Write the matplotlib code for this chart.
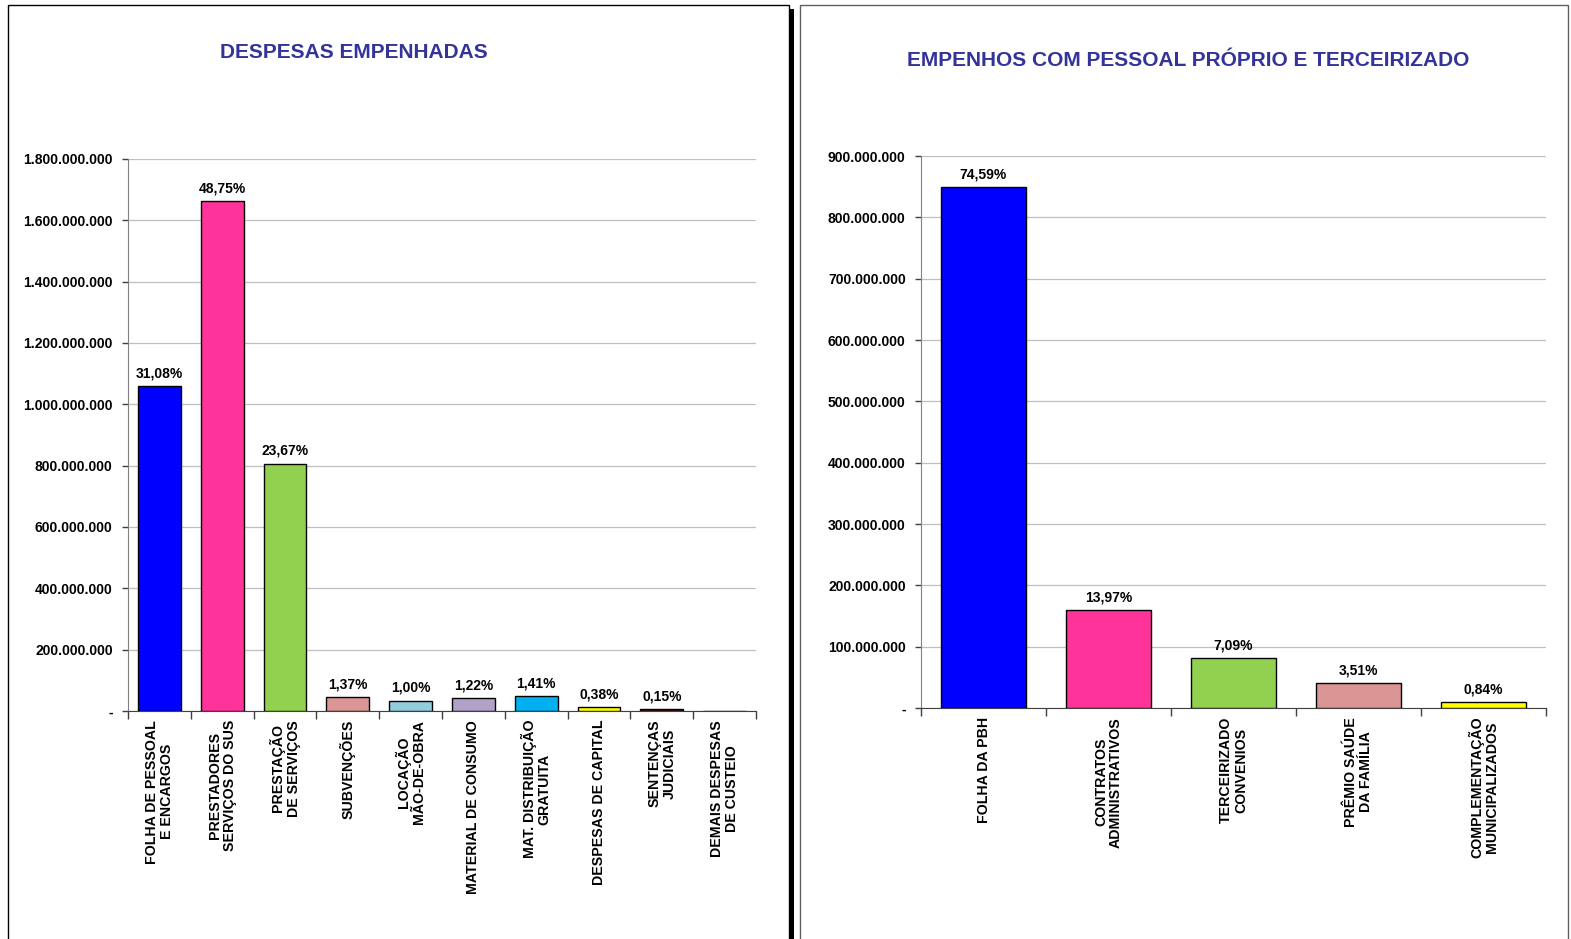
import matplotlib
matplotlib.use("Agg")
from matplotlib import pyplot as plt
from matplotlib.patches import Rectangle
from matplotlib.ticker import FuncFormatter, FixedLocator
import numpy as np

plt.rcParams['font.family'] = ['Liberation Sans', 'DejaVu Sans']
plt.rcParams['font.weight'] = 'bold'

# left chart data
desp_labels = ['FOLHA DE PESSOAL\nE ENCARGOS', 'PRESTADORES\nSERVIÇOS DO SUS', 'PRESTAÇÃO\nDE SERVIÇOS',
               'SUBVENÇÕES', 'LOCAÇÃO\nMÃO-DE-OBRA', 'MATERIAL DE CONSUMO', 'MAT. DISTRIBUIÇÃO\nGRATUITA',
               'DESPESAS DE CAPITAL', 'SENTENÇAS\nJUDICIAIS', 'DEMAIS DESPESAS\nDE CUSTEIO']
desp_values = [1060e6, 1662e6, 807e6, 46.7e6, 34.1e6, 41.6e6, 48.1e6, 13.0e6, 5.1e6, 1.5e6]
desp_pct = ['31,08%', '48,75%', '23,67%', '1,37%', '1,00%', '1,22%', '1,41%', '0,38%', '0,15%', '']
desp_colors = ['#0000FF', '#FF3399', '#92D050', '#DA9694', '#92CDDC', '#B1A0C7', '#00B0F0',
               '#FFFF00', '#4B1010', '#1F1F4F']

# right chart data
pes_labels = ['FOLHA DA PBH', 'CONTRATOS\nADMINISTRATIVOS', 'TERCEIRIZADO\nCONVENIOS',
              'PRÊMIO SAÚDE\nDA FAMÍLIA', 'COMPLEMENTAÇÃO\nMUNICIPALIZADOS']
pes_values = [849.5e6, 159.1e6, 80.8e6, 40.0e6, 9.6e6]
pes_pct = ['74,59%', '13,97%', '7,09%', '3,51%', '0,84%']
pes_colors = ['#0000FF', '#FF3399', '#92D050', '#DA9694', '#FFFF00']

title_color = '#333399'


def fmt_money(v, pos=None):
  if abs(v) < 1:
    return '-'
  return '{:,.0f}'.format(v).replace(',', '.')


def draw_chart(ax, labels, values, pct, colors, ymax, step, title, title_y):
  n = len(values)
  x = np.arange(n)
  bars = ax.bar(x, values, width=0.68, color=colors, edgecolor='black', linewidth=1.0, zorder=3)
  for b, p in zip(bars, pct):
    if p:
      ax.annotate(p, (b.get_x() + b.get_width() / 2, b.get_height()), xytext=(0, 4),
                  textcoords='offset points', ha='center', va='bottom', fontsize=10, fontweight='bold')
  ax.set_xlim(-0.5, n - 0.5)
  ax.set_ylim(0, ymax)
  ax.set_yticks(np.arange(0, ymax + 1, step))
  ax.yaxis.set_major_formatter(FuncFormatter(fmt_money))
  ax.grid(axis='y', color='#BFBFBF', linewidth=0.9, zorder=0)
  ax.set_axisbelow(True)
  for s in ['top', 'right']:
    ax.spines[s].set_visible(False)
  ax.spines['left'].set_color('#808080')
  ax.spines['bottom'].set_color('#404040')
  ax.tick_params(axis='y', length=4, width=1, color='#404040', labelsize=10, pad=7)
  ax.set_xticks(x)
  ax.set_xticklabels([])
  ax.tick_params(axis='x', which='major', length=0)
  ax.xaxis.set_minor_locator(FixedLocator(np.arange(-0.5, n, 1.0)))
  ax.tick_params(axis='x', which='minor', length=6, width=1, color='#404040', direction='out')
  for xi, lab in zip(x, labels):
    ax.text(xi, -0.016, lab, transform=ax.get_xaxis_transform(), rotation=90, ha='center', va='top',
            multialignment='center', fontsize=10.2, fontweight='bold', linespacing=1.1)
  for t in ax.get_yticklabels():
    t.set_fontweight('bold')
  ax.figure.text(title[1], title_y, title[0], ha='center', va='center', fontsize=15,
                 fontweight='bold', color=title_color)


W, H = 1571, 939
fig = plt.figure(figsize=(W / 100, H / 100), dpi=100)
fig.patch.set_facecolor('white')


def px(x0, y0, x1, y1):
  return [x0 / W, 1 - y1 / H, (x1 - x0) / W, (y1 - y0) / H]


# panel frames
fig.patches.append(Rectangle((790 / W, 0), 4 / W, 1 - 9 / H, transform=fig.transFigure,
                             facecolor='black', edgecolor='none', zorder=-1))
fig.patches.append(Rectangle((8 / W, -0.01), (789 - 8) / W, 1.01 - 5 / H, transform=fig.transFigure,
                             fill=False, edgecolor='black', linewidth=1.0, zorder=-1))
fig.patches.append(Rectangle((800 / W, -0.01), (1568 - 800) / W, 1.01 - 5 / H, transform=fig.transFigure,
                             fill=False, edgecolor='#606060', linewidth=1.0, zorder=-1))

ax1 = fig.add_axes(px(128, 159, 756, 711))
ax1.patch.set_alpha(0)
draw_chart(ax1, desp_labels, desp_values, desp_pct, desp_colors, 1.8e9, 2e8,
           ('DESPESAS EMPENHADAS', 354 / W), 1 - 53 / H)

ax2 = fig.add_axes(px(921, 156, 1546, 708))
ax2.patch.set_alpha(0)
draw_chart(ax2, pes_labels, pes_values, pes_pct, pes_colors, 9e8, 1e8,
           ('EMPENHOS COM PESSOAL PRÓPRIO E TERCEIRIZADO', 1188 / W), 1 - 60 / H)

fig.savefig('out.png', dpi=100, facecolor='white')
